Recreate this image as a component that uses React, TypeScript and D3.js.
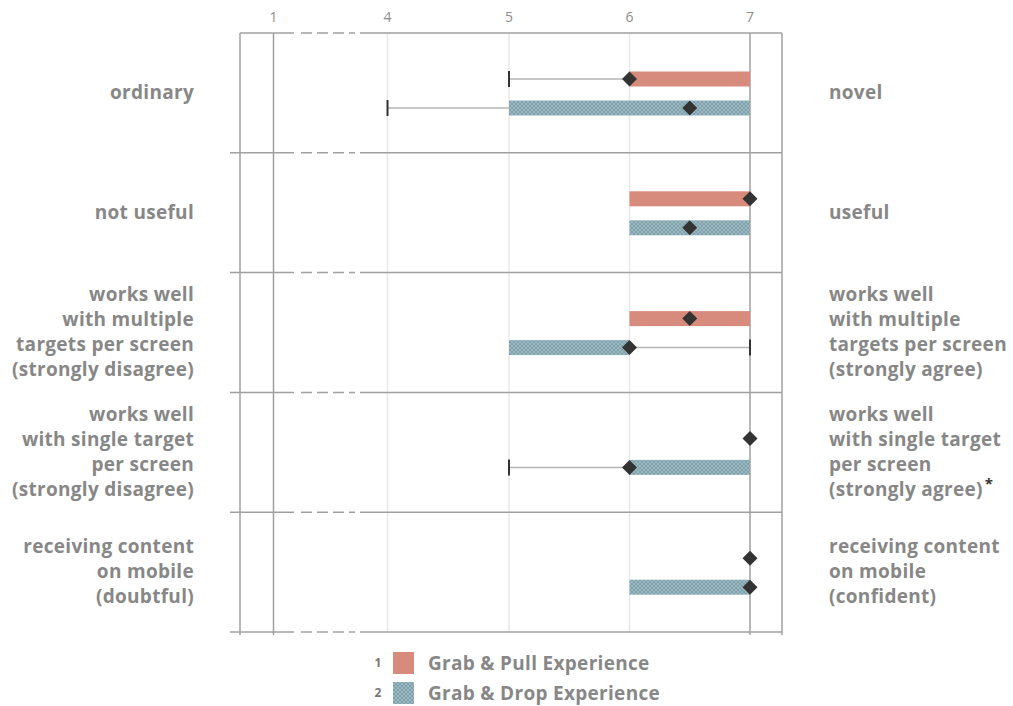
import React from "react";
import * as d3 from "d3";

const tickValues = [1, 4, 5, 6, 7];
const tickLabels = ["1", "4", "5", "6", "7"];

const leftLabels = [
  ["ordinary"],
  ["not useful"],
  ["works well", "with multiple", "targets per screen", "(strongly disagree)"],
  ["works well", "with single target", "per screen", "(strongly disagree)"],
  ["receiving content", "on mobile", "(doubtful)"],
];
const rightLabels = [
  ["novel"],
  ["useful"],
  ["works well", "with multiple", "targets per screen", "(strongly agree)"],
  ["works well", "with single target", "per screen", "(strongly agree)"],
  ["receiving content", "on mobile", "(confident)"],
];
const rightStars = [false, false, false, true, false];

const seriesNames = ["Grab & Pull Experience", "Grab & Drop Experience"];

const pullMin = [5, 6, 6, 7, 7];
const pullQ1 = [6, 6, 6, 7, 7];
const pullMedian = [6, 7, 6.5, 7, 7];
const pullQ3 = [7, 7, 7, 7, 7];
const pullMax = [7, 7, 7, 7, 7];

const dropMin = [4, 6, 5, 5, 6];
const dropQ1 = [5, 6, 5, 6, 6];
const dropMedian = [6.5, 6.5, 6, 6, 7];
const dropQ3 = [7, 7, 6, 7, 7];
const dropMax = [7, 7, 7, 7, 7];

const W = 1013;
const H = 706;
const plotLeft = 240;
const plotRight = 782;
const plotTop = 33;
const rowH = 119.8;
const nRows = 5;
const plotBottom = plotTop + rowH * nRows;

const TEXT = "#878787";
const GRID = "#a0a0a0";
const LIGHT = "#e8e8e8";
const PINK = "#d68b7c";
const FONT = "'Open Sans', Lato, sans-serif";
const LABEL_SIZE = 19;
const LABEL_LS = 0.3;

export default function App() {
  const x = d3
    .scaleLinear()
    .domain(tickValues)
    .range([273.5, 387.5, 509, 629.5, 750]);
  const yRow = d3
    .scaleLinear()
    .domain([0, nRows])
    .range([plotTop, plotBottom]);
  const seriesOffset = d3
    .scaleOrdinal<string, number>()
    .domain(["pull", "drop"])
    .range([46, 75]);
  const barH = 15;

  const series = [
    { key: "pull", min: pullMin, q1: pullQ1, med: pullMedian, q3: pullQ3, max: pullMax, fill: PINK },
    { key: "drop", min: dropMin, q1: dropQ1, med: dropMedian, q3: dropQ3, max: dropMax, fill: "url(#hatch)" },
  ];

  const hLines = d3.range(nRows + 1).map((i) => yRow(i));
  const breakStart = 294;
  const breakEnd = 360;

  const diamond = (cx: number, cy: number, r: number) =>
    `M${cx},${cy - r}L${cx + r},${cy}L${cx},${cy + r}L${cx - r},${cy}Z`;

  return (
    <svg
      width={W}
      height={H}
      style={{ position: "absolute", left: 0, top: 0, background: "#fff" }}
      fontFamily={FONT}
    >
      <defs>
        <pattern id="hatch" width="4" height="4" patternUnits="userSpaceOnUse">
          <rect width="4" height="4" fill="#9cb9c2" />
          <path d="M0,0L4,4M4,0L0,4" stroke="#7c9ea9" strokeWidth="0.9" />
        </pattern>
      </defs>

      {[4, 5, 6].map((v) => (
        <line key={"g" + v} x1={x(v)} x2={x(v)} y1={plotTop} y2={plotBottom} stroke={LIGHT} strokeWidth={1.5} />
      ))}

      {[1, 7].map((v) => (
        <line key={"a" + v} x1={x(v)} x2={x(v)} y1={plotTop} y2={plotBottom + 3} stroke={GRID} strokeWidth={1.5} />
      ))}
      <line x1={plotLeft} x2={plotLeft} y1={plotTop} y2={plotBottom + 3} stroke={GRID} strokeWidth={1.5} />
      <line x1={plotRight} x2={plotRight} y1={plotTop} y2={plotBottom + 3} stroke={GRID} strokeWidth={1.5} />

      {hLines.map((y, i) => (
        <g key={"h" + i}>
          <line x1={i === 0 ? plotLeft : plotLeft - 10} x2={breakStart} y1={y} y2={y} stroke={GRID} strokeWidth={1.5} />
          <line x1={breakStart + 7} x2={breakEnd - 5} y1={y} y2={y} stroke={GRID} strokeWidth={1.5} strokeDasharray="11,5" />
          <line x1={breakEnd} x2={plotRight} y1={y} y2={y} stroke={GRID} strokeWidth={1.5} />
        </g>
      ))}

      {tickValues.map((v, i) => (
        <text key={"t" + v} x={x(v)} y={22} textAnchor="middle" fontSize={14} fill="#8c8c8c">
          {tickLabels[i]}
        </text>
      ))}

      {d3.range(nRows).map((r) =>
        series.map((s) => {
          const cy = yRow(r) + seriesOffset(s.key);
          const els: any[] = [];
          if (s.min[r] < s.q1[r]) {
            els.push(
              <line key="wl" x1={x(s.min[r])} x2={x(s.q1[r])} y1={cy} y2={cy} stroke="#b5b5b5" strokeWidth={1.5} />,
              <line key="cl" x1={x(s.min[r])} x2={x(s.min[r])} y1={cy - 8} y2={cy + 8} stroke="#333" strokeWidth={2} />
            );
          }
          if (s.max[r] > s.q3[r]) {
            els.push(
              <line key="wr" x1={x(s.q3[r])} x2={x(s.max[r])} y1={cy} y2={cy} stroke="#b5b5b5" strokeWidth={1.5} />,
              <line key="cr" x1={x(s.max[r])} x2={x(s.max[r])} y1={cy - 8} y2={cy + 8} stroke="#333" strokeWidth={2} />
            );
          }
          if (s.q3[r] > s.q1[r]) {
            els.push(
              <rect key="b" x={x(s.q1[r])} y={cy - barH / 2} width={x(s.q3[r]) - x(s.q1[r])} height={barH} fill={s.fill} />
            );
          }
          els.push(<path key="d" d={diamond(x(s.med[r]), cy, 7.5)} fill="#333" />);
          return <g key={r + s.key}>{els}</g>;
        })
      )}

      {leftLabels.map((lines, r) => {
        const c = yRow(r) + rowH / 2;
        const lh = 24.8;
        const start = c - ((lines.length - 1) * lh) / 2;
        return (
          <text key={"l" + r} textAnchor="end" fontSize={LABEL_SIZE} fontWeight={700} fill={TEXT} letterSpacing={LABEL_LS}>
            {lines.map((t, k) => (
              <tspan key={k} x={194} y={start + k * lh + 6}>
                {t}
              </tspan>
            ))}
          </text>
        );
      })}

      {rightLabels.map((lines, r) => {
        const c = yRow(r) + rowH / 2;
        const lh = 24.8;
        const start = c - ((lines.length - 1) * lh) / 2;
        return (
          <text key={"r" + r} textAnchor="start" fontSize={LABEL_SIZE} fontWeight={700} fill={TEXT} letterSpacing={LABEL_LS}>
            {lines.map((t, k) => (
              <tspan key={k} x={829} y={start + k * lh + 6}>
                {t}
                {rightStars[r] && k === lines.length - 1 ? (
                  <tspan dx={2} dy={-7} fontSize={15} fill="#333">*</tspan>
                ) : null}
              </tspan>
            ))}
          </text>
        );
      })}

      {seriesNames.map((name, i) => {
        const y = 652 + i * 30;
        return (
          <g key={"lg" + i}>
            <text x={378} y={y + 15} textAnchor="middle" fontSize={12} fontWeight={700} fill="#777">
              {String(i + 1)}
            </text>
            <rect x={393} y={y} width={21} height={22} fill={series[i].fill} />
            <text x={428} y={y + 18} fontSize={LABEL_SIZE} fontWeight={700} fill={TEXT} letterSpacing={LABEL_LS}>
              {name}
            </text>
          </g>
        );
      })}
    </svg>
  );
}
